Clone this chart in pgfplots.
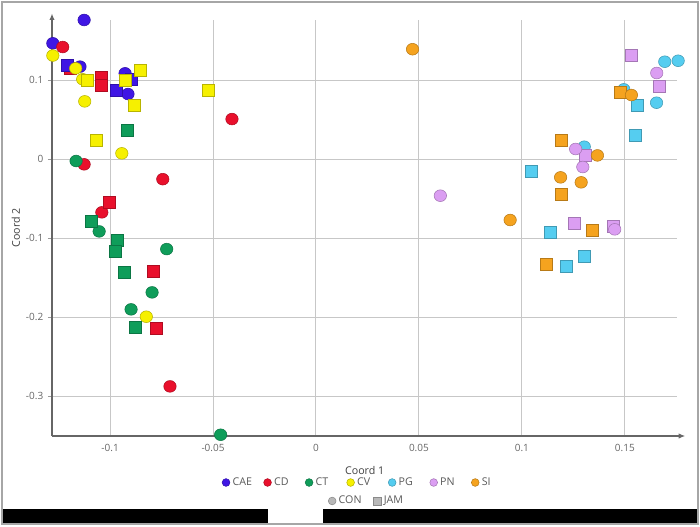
\documentclass[border=0pt]{standalone}
\usepackage{pgfplots}
\pgfplotsset{compat=1.18}
\usepackage{fontspec}
\setmainfont{Open Sans}
\usetikzlibrary{arrows.meta}

\definecolor{cae}{HTML}{3F16E4}
\definecolor{cd}{HTML}{E9102C}
\definecolor{ct}{HTML}{0F9D5A}
\definecolor{cv}{HTML}{F6F000}
\definecolor{pg}{HTML}{55CDF0}
\definecolor{pn}{HTML}{DB9EF2}
\definecolor{si}{HTML}{F5A31F}
\definecolor{lgray}{HTML}{B8B8B8}
\definecolor{tickgray}{HTML}{666666}

\pgfplotsset{
  cir/.style={only marks, mark=*, mark size=4.4pt,
    mark options={draw=#1!75!black, fill=#1, line width=0.4pt, xscale=1.06}},
  sq/.style={only marks, mark=square*, mark size=4.5pt,
    mark options={draw=#1!75!black, fill=#1, line width=0.4pt}},
  lcir/.style={only marks, mark=*, mark size=2.9pt,
    mark options={draw=#1!75!black, fill=#1, line width=0.4pt}},
  lsq/.style={only marks, mark=square*, mark size=2.9pt,
    mark options={draw=#1!75!black, fill=#1, line width=0.4pt}},
  base/.style={
    scale only axis, width=469pt, height=312pt,
    at={(39pt,67.5pt)}, anchor=south west,
    xmin=-0.1282, xmax=0.1755, ymin=-0.3506, ymax=0.176,
  },
}

\begin{document}
\begin{tikzpicture}
  \useasboundingbox (0,0) rectangle (525pt,394.5pt);
  \draw[gray!70, line width=1.1pt] (1.5pt,1.5pt) rectangle (523.5pt,393pt);
  \fill[black] (2.25pt,2.6pt) rectangle (201pt,12.75pt);
  \fill[black] (242.25pt,2.6pt) rectangle (522.75pt,12.75pt);

  \begin{axis}[
      base,
      clip marker paths=false, clip=false,
      axis lines=left,
      axis line style={draw=black!60, line width=1.1pt},
      x axis line style={-{Latex[length=5pt,width=4pt]}, shorten >=-6pt},
      y axis line style={-{Latex[length=5pt,width=4pt]}, shorten >=-5pt},
      xtick={-0.1,-0.05,0,0.05,0.1,0.15},
      xticklabels={-0.1,-0.05,0,0.05,0.1,0.15},
      ytick={-0.3,-0.2,-0.1,0,0.1},
      yticklabels={-0.3,-0.2,-0.1,0,0.1},
      xtick style={draw=none},
      ytick style={draw=black!40, line width=0.6pt},
      tick align=outside, major tick length=3pt,
      tick label style={font=\fontsize{7.5}{9}\selectfont, text=tickgray},
      xticklabel style={yshift=0pt},
      grid=major, major grid style={draw=black!22, line width=0.75pt},
      xlabel={Coord 1}, ylabel={Coord 2},
      label style={font=\fontsize{8}{10}\selectfont, text=black!75},
      xlabel style={at={(axis description cs:0.5,-0.082)}, anchor=center},
      ylabel style={at={(axis description cs:-0.0576,0.5)}, anchor=center},
      legend style={draw=none, fill=none, font=\fontsize{8}{10}\selectfont,
        text=black!65, legend columns=7,
        at={(axis description cs:0.4925,-0.1118)}, anchor=center,
        /tikz/every even column/.append style={column sep=4pt}},
    ]
    % hidden red square under the blue one
    \addplot[sq=cd, forget plot] coordinates {(-0.1194,0.115)};
    % CAE
    \addplot[cir=cae, forget plot] coordinates {
      (-0.1126,0.176) (-0.1278,0.1465) (-0.1146,0.117) (-0.0927,0.1085) (-0.0913,0.0823)};
    \addplot[sq=cae, forget plot] coordinates {
      (-0.1206,0.1186) (-0.0895,0.1009) (-0.0968,0.0865)};
    % CV
    \addplot[cir=cv, forget plot] coordinates {
      (-0.1278,0.131) (-0.1167,0.1148) (-0.1133,0.101) (-0.1123,0.073) (-0.0943,0.0072) (-0.0824,-0.1996)};
    \addplot[sq=cv, forget plot] coordinates {
      (-0.1113,0.100) (-0.0925,0.100) (-0.0851,0.1127) (-0.0882,0.068) (-0.0523,0.0873) (-0.1068,0.0232)};
    % CD
    \addplot[cir=cd, forget plot] coordinates {
      (-0.123,0.1418) (-0.0408,0.0506) (-0.1126,-0.0067) (-0.0744,-0.0255) (-0.104,-0.0675) (-0.0709,-0.2878)};
    \addplot[sq=cd, forget plot] coordinates {
      (-0.1044,0.104) (-0.1044,0.0937) (-0.1005,-0.0549) (-0.0791,-0.1426) (-0.0778,-0.2148)};
    % CT
    \addplot[cir=ct, forget plot] coordinates {
      (-0.1165,-0.0025) (-0.1053,-0.0916) (-0.0725,-0.114) (-0.0796,-0.1688) (-0.0898,-0.1903) (-0.0463,-0.349)};
    \addplot[sq=ct, forget plot] coordinates {
      (-0.0916,0.0363) (-0.1089,-0.0785) (-0.0966,-0.1025) (-0.0976,-0.1165) (-0.0932,-0.1439) (-0.0877,-0.2127)};
    % PG
    \addplot[cir=pg, forget plot] coordinates {
      (0.1694,0.1232) (0.1759,0.1244) (0.1495,0.0882) (0.1654,0.0713) (0.1303,0.0156)};
    \addplot[sq=pg, forget plot] coordinates {
      (0.1561,0.0684) (0.155,0.0304) (0.1044,-0.0156) (0.1136,-0.0928) (0.1304,-0.1236) (0.1218,-0.1359)};
    % PN
    \addplot[sq=pn, forget plot] coordinates {
      (0.1532,0.1316) (0.1665,0.0916) (0.1306,0.0042) (0.1256,-0.0814) (0.1443,-0.0857)};
    \addplot[cir=pn, forget plot] coordinates {
      (0.1655,0.1089) (0.1261,0.0127) (0.1296,-0.0101) (0.0604,-0.0464) (0.1451,-0.089)};
    % SI
    \addplot[sq=si, forget plot] coordinates {
      (0.1479,0.0848) (0.1191,0.024) (0.1193,-0.0447) (0.1343,-0.0899) (0.1117,-0.1329)};
    \addplot[cir=si, forget plot] coordinates {
      (0.0469,0.139) (0.1532,0.081) (0.1367,0.0046) (0.1188,-0.0232) (0.1288,-0.0295) (0.0943,-0.0772)};

    \addlegendimage{lcir=cae}\addlegendentry{\makebox[17.35pt][l]{CAE}}
    \addlegendimage{lcir=cd}\addlegendentry{\makebox[17.35pt][l]{CD}}
    \addlegendimage{lcir=ct}\addlegendentry{\makebox[17.35pt][l]{CT}}
    \addlegendimage{lcir=cv}\addlegendentry{\makebox[17.35pt][l]{CV}}
    \addlegendimage{lcir=pg}\addlegendentry{\makebox[17.35pt][l]{PG}}
    \addlegendimage{lcir=pn}\addlegendentry{\makebox[17.35pt][l]{PN}}
    \addlegendimage{lcir=si}\addlegendentry{\makebox[10pt][l]{SI}}
  \end{axis}

  \begin{axis}[
      base, hide axis,
      legend style={draw=none, fill=none, font=\fontsize{8}{10}\selectfont,
        text=black!65, legend columns=2,
        at={(axis description cs:0.5037,-0.1562)}, anchor=center,
        /tikz/every even column/.append style={column sep=4pt}},
    ]
    \addlegendimage{lcir=lgray}\addlegendentry{\makebox[20pt][l]{CON}}
    \addlegendimage{lsq=lgray}\addlegendentry{JAM}
  \end{axis}
\end{tikzpicture}
\end{document}
